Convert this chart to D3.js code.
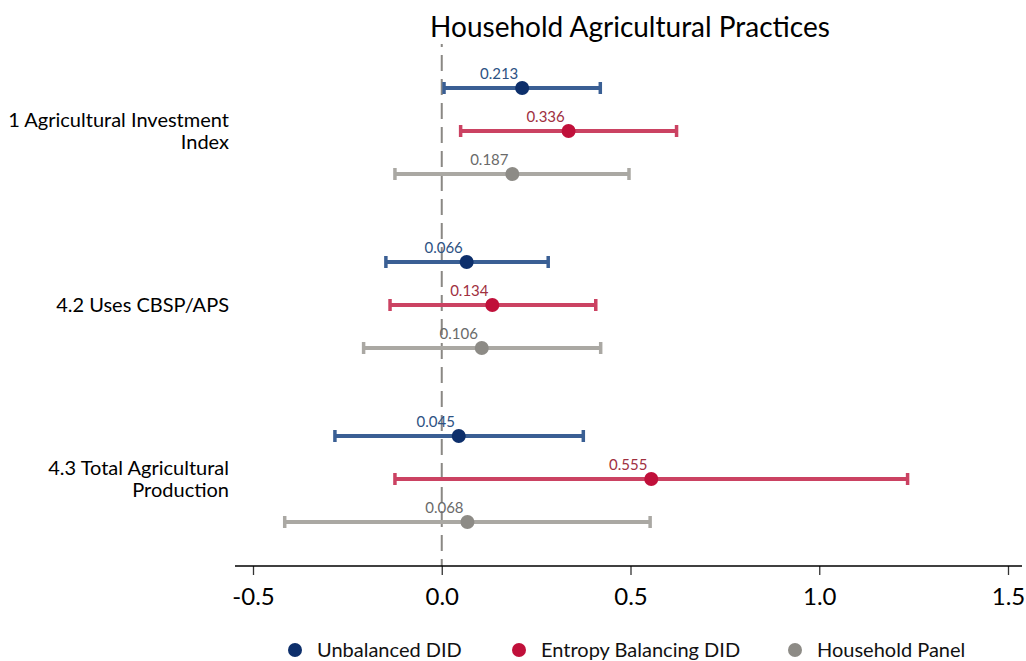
<!DOCTYPE html>
<html>
<head>
<meta charset="utf-8">
<script src="https://cdn.jsdelivr.net/npm/d3@7"></script>
<style>
  body { margin: 0; background: #fff; }
  svg { font-family: Lato, "Open Sans", sans-serif; }
</style>
</head>
<body>
<svg id="chart" width="1026" height="661"></svg>
<script>
// outcome rows (label lines) and model series
var outcomes = ["inv", "cbsp", "prod"];
var outcomeLabels = [
    ["1 Agricultural Investment", "Index"],
    ["4.2 Uses CBSP/APS"],
    ["4.3 Total Agricultural", "Production"]
];
var models = ["Unbalanced DID", "Entropy Balancing DID", "Household Panel"];

var estUnbalanced = [0.213, 0.066, 0.045];
var lowUnbalanced = [0.006, -0.148, -0.283];
var highUnbalanced = [0.420, 0.282, 0.375];

var estEntropy = [0.336, 0.134, 0.555];
var lowEntropy = [0.050, -0.137, -0.124];
var highEntropy = [0.622, 0.408, 1.234];

var estPanel = [0.187, 0.106, 0.068];
var lowPanel = [-0.124, -0.207, -0.416];
var highPanel = [0.496, 0.421, 0.552];

var xTicks = [-0.5, 0, 0.5, 1.0, 1.5];

var pointColors = ["#0d2f6b", "#c0103a", "#8d8b86"];
var lineColors = ["#3a5f94", "#cb4262", "#aaa8a3"];
var labelColors = ["#2d5283", "#a0303f", "#6a6a6a"];

var series = [
    {est: estUnbalanced, low: lowUnbalanced, high: highUnbalanced},
    {est: estEntropy, low: lowEntropy, high: highEntropy},
    {est: estPanel, low: lowPanel, high: highPanel}
];

var svg = d3.select('#chart');

var x = d3.scaleLinear().domain([-0.5, 1.5]).range([253, 1008]);
var yGroup = d3.scalePoint().domain(outcomes).range([131, 479]);
var yInner = d3.scalePoint().domain(models).range([-43, 43]);
var axisY = 566;

// title
svg.append('text')
    .attr('x', 630)
    .attr('y', 37)
    .attr('text-anchor', 'middle')
    .style('font-size', '28px')
    .style('fill', '#000')
    .text('Household Agricultural Practices');

// zero reference line
svg.append('line')
    .attr('x1', x(0)).attr('x2', x(0))
    .attr('y1', 44).attr('y2', axisY)
    .attr('stroke', '#8a8884')
    .attr('stroke-width', 2)
    .attr('stroke-dasharray', '16,8')
    .attr('stroke-dashoffset', 13);

// x axis
var xAxis = d3.axisBottom(x)
    .tickValues(xTicks)
    .tickFormat((d) => d3.format('.1f')(d).replace('−', '-'))
    .tickSize(9)
    .tickSizeOuter(0);

var gx = svg.append('g')
    .attr('transform', `translate(0,${axisY})`)
    .call(xAxis);
gx.select('.domain').remove();
gx.append('line')
    .attr('x1', 235).attr('x2', 1022)
    .attr('stroke', '#000').attr('stroke-width', 1.3);
gx.selectAll('.tick line').attr('stroke', '#333').attr('stroke-width', 1.3);
gx.selectAll('.tick text')
    .attr('y', 22)
    .style('font-size', '24px')
    .style('font-family', 'Lato, sans-serif')
    .style('fill', '#000');

// row labels
outcomes.forEach(function (o, i) {
    var lines = outcomeLabels[i];
    var t = svg.append('text')
        .attr('text-anchor', 'end')
        .style('font-size', '20px')
        .style('fill', '#000');
    lines.forEach(function (ln, j) {
        t.append('tspan')
            .attr('x', 229)
            .attr('y', yGroup(o) + 7 + (j - (lines.length - 1) / 2) * 22)
            .text(ln);
    });
});

// estimates with CI
series.forEach(function (s, k) {
    var m = models[k];
    var rows = outcomes.map(function (o, i) {
        return {o: o, est: s.est[i], low: s.low[i], high: s.high[i]};
    });
    var g = svg.append('g').attr('class', 'series');
    var yPos = (d) => yGroup(d.o) + yInner(m);

    g.selectAll('.ci').data(rows).enter().append('line')
        .attr('x1', (d) => x(d.low)).attr('x2', (d) => x(d.high))
        .attr('y1', yPos).attr('y2', yPos)
        .attr('stroke', lineColors[k]).attr('stroke-width', 4);

    ['low', 'high'].forEach(function (end) {
        g.selectAll('.cap-' + end).data(rows).enter().append('line')
            .attr('x1', (d) => x(d[end])).attr('x2', (d) => x(d[end]))
            .attr('y1', (d) => yPos(d) - 6).attr('y2', (d) => yPos(d) + 6)
            .attr('stroke', lineColors[k]).attr('stroke-width', 3.5);
    });

    g.selectAll('.pt').data(rows).enter().append('circle')
        .attr('cx', (d) => x(d.est))
        .attr('cy', yPos)
        .attr('r', 7)
        .attr('fill', pointColors[k]);

    g.selectAll('.lbl').data(rows).enter().append('text')
        .attr('x', (d) => x(d.est) - 23)
        .attr('y', (d) => yPos(d) - 9)
        .attr('text-anchor', 'middle')
        .style('font-size', '15px')
        .style('fill', labelColors[k])
        .text((d) => d.est.toFixed(3));
});

// legend
var legendX = [295, 519, 795];
var legend = svg.append('g').selectAll('g')
    .data(models).enter().append('g')
    .attr('transform', (d, i) => `translate(${legendX[i]},650)`);
legend.append('circle')
    .attr('r', 7)
    .attr('fill', (d, i) => pointColors[i]);
legend.append('text')
    .attr('x', 22)
    .attr('y', 7)
    .style('font-size', '20px')
    .style('fill', '#111')
    .text((d) => d);
</script>
</body>
</html>
